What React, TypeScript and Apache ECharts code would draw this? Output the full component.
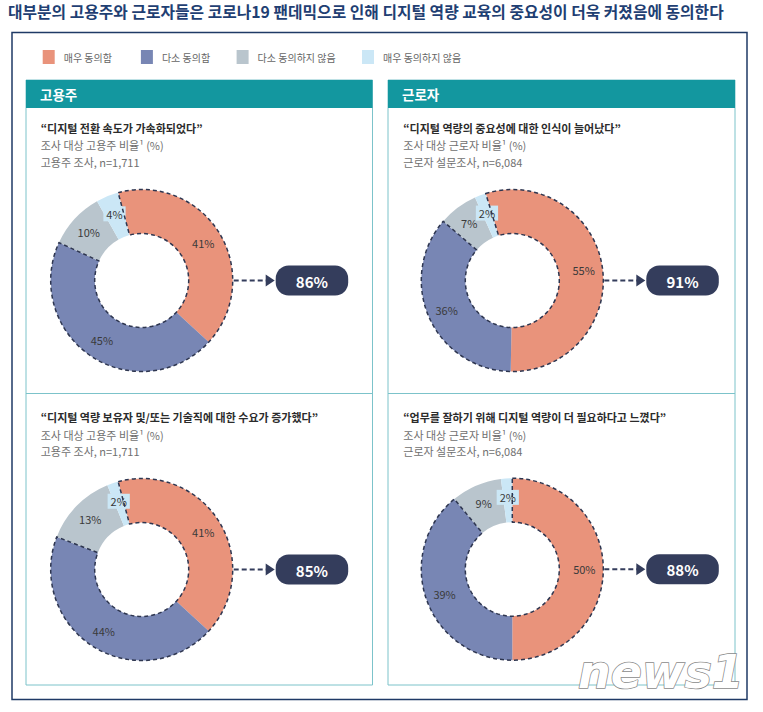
import React, { useEffect, useRef } from 'react';
import * as echarts from 'echarts';

const categories = ['매우 동의함', '다소 동의함', '다소 동의하지 않음', '매우 동의하지 않음'];
const employerDigitalSpeed = [41, 45, 10, 4];
const workerAwareness = [55, 36, 7, 2];
const employerDemand = [41, 44, 13, 2];
const workerNeed = [50, 39, 9, 2];
const agreeTotals = [86, 91, 85, 88];
const panelTitles = ['고용주', '근로자'];
const quotes = [
  '“디지털 전환 속도가 가속화되었다”',
  '“디지털 역량의 중요성에 대한 인식이 늘어났다”',
  '“디지털 역량 보유자 및/또는 기술직에 대한 수요가 증가했다”',
  '“업무를 잘하기 위해 디지털 역량이 더 필요하다고 느꼈다”',
];
const shareLines = ['조사 대상 고용주 비율¹ (%)', '조사 대상 근로자 비율¹ (%)', '조사 대상 고용주 비율¹ (%)', '조사 대상 근로자 비율¹ (%)'];
const sampleLines = ['고용주 조사, n=1,711', '근로자 설문조사, n=6,084', '고용주 조사, n=1,711', '근로자 설문조사, n=6,084'];
const mainTitle = '대부분의 고용주와 근로자들은 코로나19 팬데믹으로 인해 디지털 역량 교육의 중요성이 더욱 커졌음에 동의한다';

const COLORS = ['#e9937b', '#7886b4', '#b9c5cd', '#cbe7f6'];
const FONT = '"Noto Sans CJK KR", "Noto Sans", sans-serif';
const NAVY = '#343d5c';

const seriesData = [employerDigitalSpeed, workerAwareness, employerDemand, workerNeed];
const layout = [
  { cx: 141.7, cy: 280.5, start: 105, tx: 40.7, ty: 127.5 },
  { cx: 512.3, cy: 280.5, start: 107, tx: 403.3, ty: 127.5 },
  { cx: 141.7, cy: 569.5, start: 105, tx: 40.7, ty: 417 },
  { cx: 512.3, cy: 569.2, start: 90, tx: 403.3, ty: 417 },
];
const R_IN = 47;
const R_OUT = 91;

export default function App() {
  const ref = useRef<HTMLDivElement>(null);
  useEffect(() => {
    if (!ref.current) return;
    const chart = echarts.init(ref.current, undefined, { renderer: 'svg' });

    const series: any[] = [];
    const graphic: any[] = [];

    // title
    graphic.push({
      type: 'text', x: 8, y: 11,
      style: { text: mainTitle, fontSize: 15.8, fontWeight: 'bold', fontFamily: FONT, fill: '#1f3f73', align: 'left', verticalAlign: 'middle' },
    });
    // outer box
    graphic.push({ type: 'rect', shape: { x: 12, y: 32.5, width: 735, height: 667 }, style: { fill: 'none', stroke: '#1f3a66', lineWidth: 1.5 } });

    // panels
    const panels = [{ x: 26, w: 346.5 }, { x: 388, w: 347 }];
    panels.forEach((p, i) => {
      graphic.push({ type: 'rect', shape: { x: p.x, y: 80, width: p.w, height: 605 }, style: { fill: 'none', stroke: '#7cc3ca', lineWidth: 1 } });
      graphic.push({ type: 'rect', shape: { x: p.x, y: 80, width: p.w, height: 28 }, style: { fill: '#13979f' } });
      graphic.push({ type: 'line', shape: { x1: p.x, y1: 393.5, x2: p.x + p.w, y2: 393.5 }, style: { stroke: '#7cc3ca', lineWidth: 1 } });
      graphic.push({
        type: 'text', x: p.x + 14, y: 94,
        style: { text: panelTitles[i], fontSize: 13.5, fontWeight: 'bold', fontFamily: FONT, fill: '#ffffff', align: 'left', verticalAlign: 'middle' },
      });
    });

    seriesData.forEach((vals, i) => {
      const L = layout[i];
      const agreeSum = vals[0] + vals[1];
      const disagreeSum = vals[2] + vals[3];
      series.push({
        type: 'pie', name: 'chart' + i,
        center: [L.cx, L.cy], radius: [R_IN, R_OUT], startAngle: L.start, clockwise: true,
        avoidLabelOverlap: false, silent: true, z: 2,
        labelLayout: { hideOverlap: false },
        emphasis: { disabled: true },
        labelLine: { show: false },
        label: { show: true, position: 'inside', formatter: '{c}%', fontSize: 11, color: '#3a3a3a', fontFamily: FONT },
        data: vals.map((v, k) => ({
          name: categories[k], value: v,
          itemStyle: { color: COLORS[k], borderWidth: 0 },
          label: k === 3 ? { backgroundColor: COLORS[3], padding: [2, 3] } : undefined,
        })),
      });
      series.push({
        type: 'pie', name: 'outline' + i,
        center: [L.cx, L.cy], radius: [R_IN, R_OUT], startAngle: L.start, clockwise: true,
        silent: true, z: 3, emphasis: { disabled: true },
        label: { show: false }, labelLine: { show: false },
        data: [
          { name: 'agree', value: agreeSum, itemStyle: { color: 'rgba(0,0,0,0)', borderColor: '#2e3650', borderWidth: 1.5, borderType: [4, 3] } },
          { name: 'disagree', value: disagreeSum, itemStyle: { color: 'rgba(0,0,0,0)', borderWidth: 0 } },
        ],
      });

      // texts
      graphic.push({ type: 'text', x: L.tx, y: L.ty, style: { text: quotes[i], fontSize: 11, fontWeight: 'bold', fontFamily: FONT, fill: '#2b2b2b', align: 'left', verticalAlign: 'middle' } });
      graphic.push({ type: 'text', x: L.tx, y: L.ty + 17.5, style: { text: shareLines[i], fontSize: 11, fontFamily: FONT, fill: '#707070', align: 'left', verticalAlign: 'middle' } });
      graphic.push({ type: 'text', x: L.tx, y: L.ty + 34, style: { text: sampleLines[i], fontSize: 11, fontFamily: FONT, fill: '#707070', align: 'left', verticalAlign: 'middle' } });

      // arrow + pill
      const pillX = L.cx + 134;
      const pillW = 72.5, pillH = 30;
      graphic.push({ type: 'line', z: 10, shape: { x1: L.cx + R_OUT + 1, y1: L.cy, x2: pillX - 9, y2: L.cy }, style: { stroke: NAVY, lineWidth: 2, lineDash: [5, 3] } });
      graphic.push({ type: 'polygon', z: 10, shape: { points: [[pillX - 10, L.cy - 6], [pillX - 1, L.cy], [pillX - 10, L.cy + 6]] }, style: { fill: NAVY } });
      graphic.push({ type: 'rect', z: 10, shape: { x: pillX, y: L.cy - pillH / 2, width: pillW, height: pillH, r: 13 }, style: { fill: NAVY } });
      graphic.push({
        type: 'text', z: 11, x: pillX + pillW / 2, y: L.cy + 0.5,
        style: { text: agreeTotals[i] + '%', fontSize: 15, fontWeight: 'bold', fontFamily: FONT, fill: '#ffffff', align: 'center', verticalAlign: 'middle' },
      });
    });

    // watermark
    graphic.push({
      type: 'text', z: 50, x: 578, y: 672,
      style: { text: 'news1', fontSize: 46, fontStyle: 'italic', fontWeight: 'bold', fontFamily: '"DejaVu Sans", sans-serif', fill: '#ffffff', stroke: '#8a8a8a', lineWidth: 1.5, align: 'left', verticalAlign: 'middle' },
    });

    const legendX = [42.7, 140.9, 236.6, 362];
    const legend = categories.map((c, k) => ({
      data: [c], left: legendX[k], top: 50, orient: 'horizontal',
      icon: 'rect', itemWidth: 12, itemHeight: 14, selectedMode: false,
      textStyle: { fontSize: 10, color: '#666666', fontFamily: FONT, padding: [0, 0, 0, 4] },
      padding: 0,
    }));

    chart.setOption({
      animation: false,
      backgroundColor: '#ffffff',
      legend,
      series,
      graphic: { elements: graphic },
    });
    return () => chart.dispose();
  }, []);
  return <div ref={ref} style={{ position: 'fixed', left: 0, top: 0, width: 763, height: 712 }} />;
}
